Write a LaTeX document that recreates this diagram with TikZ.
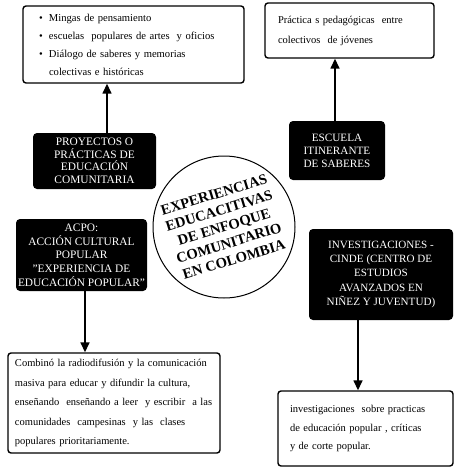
\documentclass[tikz,border=0pt]{standalone}
\usepackage{fontspec}
\setmainfont{Liberation Serif}
\usetikzlibrary{arrows.meta}
\begin{document}
\begin{tikzpicture}[x=1pt,y=-1pt,
 wbox/.style={draw, line width=1.4pt, rounded corners=3pt, fill=white, inner sep=0pt, align=left},
 bbox/.style={fill=black, rounded corners=4pt, text=white, align=center, inner sep=0pt},
 arr/.style={line width=1.5pt, -{Triangle[width=9pt,length=10pt]}},
 ]
\useasboundingbox (0,0) rectangle (463,469);
% white boxes
\node[wbox, minimum width=221pt, minimum height=77pt, text width=189pt,
      font=\fontsize{10.6}{18}\selectfont] (tl) at (133.5,44.5)
 {\makebox[10pt][l]{\textbullet}Mingas de pensamiento\\
  \makebox[10pt][l]{\textbullet}escuelas\ \ populares de artes\ \ y oficios\\
  \makebox[10pt][l]{\textbullet}Diálogo de saberes y memorias\\
  \hspace*{10pt}colectivas e históricas};
\node[wbox, minimum width=169pt, minimum height=55pt, text width=143pt,
      font=\fontsize{10.5}{20}\selectfont] (tr) at (349.5,30.5)
 {Práctica s pedagógicas\ \ entre\\ colectivos\ \ de jóvenes\\[4pt]};
\node[wbox, minimum width=212pt, minimum height=100pt, text width=198pt,
      font=\fontsize{10.5}{19.5}\selectfont] (bl) at (114,403)
 {Combinó la radiodifusión y la comunicación\\
  masiva para educar y difundir la cultura,\\
  enseñando\ \ enseñando a leer\ \ y escribir\ \ a las\\
  comunidades\ \ campesinas\ \ y las\ \ clases\\
  populares prioritariamente.};
\node[wbox, minimum width=175pt, minimum height=75pt, text width=151pt,
      font=\fontsize{10.5}{18.5}\selectfont] (br) at (365.5,428.5)
 {investigaciones\ \ sobre practicas\\
  de educación popular , críticas\\
  y de corte popular.};
% black boxes
\node[bbox, minimum width=123pt, minimum height=56pt,
      font=\fontsize{11.4}{12.5}\selectfont] (proy) at (94.5,161)
 {PROYECTOS O\\PRÁCTICAS DE\\EDUCACIÓN\\COMUNITARIA};
\node[bbox, minimum width=131pt, minimum height=72pt,
      font=\fontsize{11.4}{13.7}\selectfont] (acpo) at (81.5,255)
 {ACPO:\\ACCIÓN CULTURAL\\POPULAR\\ "EXPERIENCIA DE\\EDUCACIÓN POPULAR"};
\node[bbox, minimum width=96pt, minimum height=59pt,
      font=\fontsize{11.2}{13}\selectfont] (esc) at (337,150.5)
 {ESCUELA\\ITINERANTE\\DE SABERES};
\node[bbox, minimum width=144pt, minimum height=91pt,
      font=\fontsize{11.1}{14.2}\selectfont] (inv) at (381,274.5)
 {INVESTIGACIONES -\\CINDE (CENTRO DE\\ESTUDIOS\\AVANZADOS EN\\NIÑEZ Y JUVENTUD)};
% circle
\node[draw, circle, line width=1pt, fill=white, minimum size=142pt, inner sep=0pt] (c) at (224,227) {};
\node[rotate=17, align=center, inner sep=0pt,
      font=\fontsize{14.6}{17}\selectfont\bfseries] (ct) at (c.center)
 {EXPERIENCIAS\\EDUCACITIVAS\\DE ENFOQUE\\COMUNITARIO\\EN COLOMBIA};
% arrows
\coordinate (x1) at (107,0);
\coordinate (x2) at (335,0);
\coordinate (x3) at (85,0);
\coordinate (x4) at (358,0);
\draw[arr] (proy.north -| x1) -- (tl.south -| x1);
\draw[arr] (esc.north -| x2) -- (tr.south -| x2);
\draw[arr] (acpo.south -| x3) -- (bl.north -| x3);
\draw[arr] (inv.south -| x4) -- (br.north -| x4);
\end{tikzpicture}
\end{document}
